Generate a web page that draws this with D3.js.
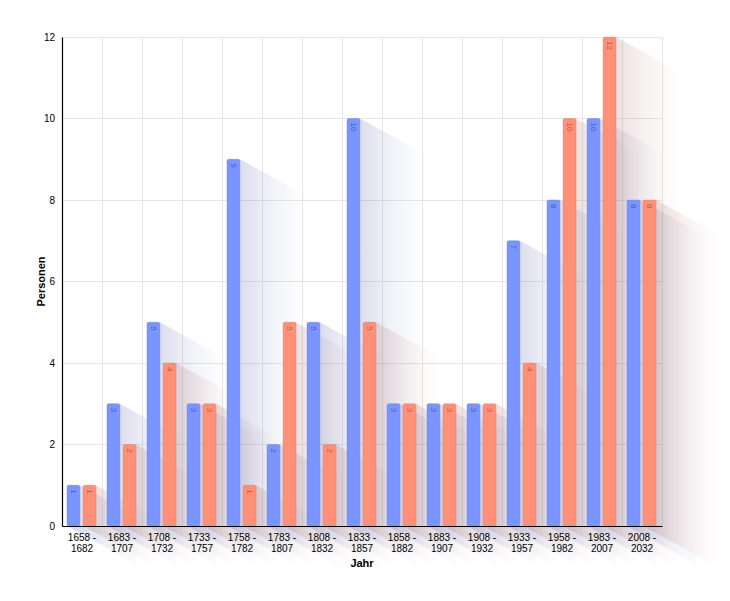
<!DOCTYPE html>
<html>
<head>
<meta charset="utf-8">
<script src="https://cdn.jsdelivr.net/npm/d3@7"></script>
<style>
  html, body { margin: 0; padding: 0; background: #fff; }
  svg { display: block; font-family: "Liberation Sans", Arial, Helvetica, sans-serif; }
</style>
</head>
<body>
<div id="chart"></div>
<script>
const categories = ["1658 - 1682","1683 - 1707","1708 - 1732","1733 - 1757","1758 - 1782","1783 - 1807","1808 - 1832","1833 - 1857","1858 - 1882","1883 - 1907","1908 - 1932","1933 - 1957","1958 - 1982","1983 - 2007","2008 - 2032"];
const seriesA = [1,3,5,3,9,2,5,10,3,3,3,7,8,10,8];
const seriesB = [1,2,4,3,1,5,2,5,3,3,3,4,10,12,8];
const seriesKeys = ["A","B"];
const yTicks = [0,2,4,6,8,10,12];
const xTitle = "Jahr";
const yTitle = "Personen";

const W = 730, H = 601;
const margin = {left: 62, right: 68, top: 37, bottom: 75};
const innerW = W - margin.left - margin.right; // 600
const innerH = H - margin.top - margin.bottom; // 489

const colors = {A: "#7b95ff", B: "#ff9078"};
const labelColors = {A: "#3d4f9a", B: "#a0503f"};
const shadowColors = {A: "rgb(70,80,160)", B: "rgb(160,95,85)"};

const svg = d3.select("#chart").append("svg").attr("width", W).attr("height", H);
const defs = svg.append("defs");
const g = svg.append("g").attr("transform", `translate(${margin.left},${margin.top})`);

const x0 = d3.scaleBand().domain(categories).range([0, innerW]).padding(0);
const x1 = d3.scaleBand().domain(seriesKeys).range([5, 34]).paddingInner(0.2).paddingOuter(0);
const y = d3.scaleLinear().domain([0, 12]).range([innerH, 0]);

// grid
const grid = g.append("g");
grid.selectAll("line.h").data(yTicks.filter(d => d > 0)).join("line")
  .attr("x1", 0).attr("x2", innerW)
  .attr("y1", d => y(d)).attr("y2", d => y(d))
  .attr("stroke", "#e6e6e6").attr("stroke-width", 1).attr("shape-rendering", "crispEdges");
grid.selectAll("line.v").data(categories).join("line")
  .attr("x1", d => x0(d) + x0.bandwidth()).attr("x2", d => x0(d) + x0.bandwidth())
  .attr("y1", 0).attr("y2", innerH)
  .attr("stroke", "#e6e6e6").attr("stroke-width", 1).attr("shape-rendering", "crispEdges");

const data = [];
categories.forEach((c, i) => {
  data.push({cat: c, key: "A", value: seriesA[i], i});
  data.push({cat: c, key: "B", value: seriesB[i], i});
});

// long shadows
const L = 90, k = 0.55, fade = 65;
const shadowG = g.append("g");
data.forEach((d, j) => {
  const bx0 = x0(d.cat) + x1(d.key);
  const bx1 = bx0 + x1.bandwidth();
  const yt = y(d.value), yb = y(0);
  const id = "sg" + j;
  const grad = defs.append("linearGradient").attr("id", id)
    .attr("gradientUnits", "userSpaceOnUse")
    .attr("x1", bx1).attr("y1", 0)
    .attr("x2", bx1 + fade).attr("y2", 0);
  grad.append("stop").attr("offset", 0).attr("stop-color", shadowColors[d.key]).attr("stop-opacity", 0.19);
  grad.append("stop").attr("offset", 0.5).attr("stop-color", shadowColors[d.key]).attr("stop-opacity", 0.07);
  grad.append("stop").attr("offset", 1).attr("stop-color", shadowColors[d.key]).attr("stop-opacity", 0);
  const pts = [[bx0, yt],[bx1, yt],[bx1 + L, yt + k*L],[bx1 + L, yb + k*L],[bx0 + L, yb + k*L],[bx0, yb]];
  shadowG.append("polygon")
    .attr("points", pts.map(p => p.join(",")).join(" "))
    .attr("fill", `url(#${id})`);
});

// bars
const bars = g.append("g");
bars.selectAll("rect").data(data).join("rect")
  .attr("x", d => x0(d.cat) + x1(d.key))
  .attr("y", d => y(d.value))
  .attr("width", x1.bandwidth())
  .attr("height", d => y(0) - y(d.value))
  .attr("rx", 2).attr("ry", 2)
  .attr("fill", d => colors[d.key])
  .attr("stroke", d => d3.color(colors[d.key]).darker(0.6))
  .attr("stroke-opacity", 0.35)
  .attr("stroke-width", 1);

// value labels (rotated)
bars.selectAll("text").data(data).join("text")
  .attr("transform", d => `translate(${x0(d.cat) + x1(d.key) + x1.bandwidth()/2},${y(d.value) + 4}) rotate(90)`)
  .attr("dy", "0.35em")
  .attr("text-anchor", "start")
  .attr("font-size", 8)
  .attr("fill", d => labelColors[d.key])
  .attr("fill-opacity", 0.85)
  .text(d => d.value);

// axes
const yAxis = g.append("g").call(d3.axisLeft(y).tickValues(yTicks).tickSize(0).tickPadding(7).tickFormat(d3.format("d")));
yAxis.select(".domain").attr("stroke", "#000").attr("stroke-width", 1.2);
yAxis.selectAll("text").attr("font-size", 10).attr("fill", "#000").attr("font-family", "Liberation Sans, Arial, sans-serif");

const xAxis = g.append("g").attr("transform", `translate(0,${innerH})`)
  .call(d3.axisBottom(x0).tickSize(0).tickPadding(8));
xAxis.select(".domain").attr("stroke", "#000").attr("stroke-width", 1.2);
xAxis.selectAll(".tick text").each(function(d) {
  const t = d3.select(this);
  const parts = d.split(" - ");
  t.text(null).attr("font-size", 10).attr("fill", "#000").attr("font-family", "Liberation Sans, Arial, sans-serif");
  t.append("tspan").attr("x", 0).attr("dy", "0.71em").text(parts[0] + " -");
  t.append("tspan").attr("x", 0).attr("dy", "1.1em").text(parts[1]);
});
xAxis.selectAll(".tick text").attr("dy", null);

// titles
svg.append("text")
  .attr("x", margin.left + innerW/2).attr("y", 567)
  .attr("text-anchor", "middle").attr("font-size", 11).attr("font-weight", "bold")
  .text(xTitle);
svg.append("text")
  .attr("transform", `translate(45,${margin.top + innerH/2}) rotate(-90)`)
  .attr("text-anchor", "middle").attr("font-size", 11).attr("font-weight", "bold")
  .text(yTitle);
</script>
</body>
</html>
